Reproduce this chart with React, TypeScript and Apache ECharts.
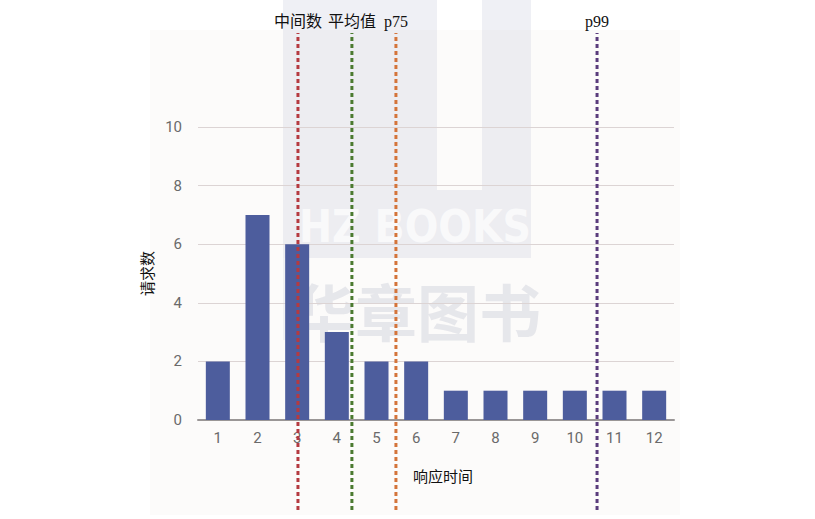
import { useEffect, useRef } from "react";
import * as echarts from "echarts";

// response-time buckets and request counts
const buckets = ["1", "2", "3", "4", "5", "6", "7", "8", "9", "10", "11", "12"];
const counts = [2, 7, 6, 3, 2, 2, 1, 1, 1, 1, 1, 1];
const yTicks = { min: 0, max: 10, interval: 2 };

// statistic markers, positions on the bucket scale (bucket n centred at n)
const markerNames = ["中间数", "平均值", "p75", "p99"];
const markerValues = [3.02, 4.38, 5.49, 10.56];
const markerColors = ["#b53a40", "#4b7a30", "#d4743a", "#5a3c7c"];

const sans = "Roboto, 'Noto Sans CJK SC', sans-serif";
const serif = "'Liberation Serif', 'Noto Sans CJK SC', serif";

export default function App() {
  const ref = useRef<HTMLDivElement | null>(null);

  useEffect(() => {
    document.body.style.margin = "0";
    if (!ref.current) return;
    const chart = echarts.init(ref.current, undefined, { renderer: "svg" });

    const markerSeries = markerNames.map((name, i) => ({
      name,
      type: "line",
      xAxisIndex: 1,
      yAxisIndex: 1,
      symbol: "circle",
      symbolSize: 0,
      showSymbol: true,
      silent: true,
      z: 5,
      lineStyle: { color: markerColors[i], width: 3, type: [4, 3] },
      label: { show: false },
      data: [
        [markerValues[i], 0],
        {
          value: [markerValues[i], 1],
          label: {
            show: true,
            position: "top",
            distance: 4,
            formatter: name,
            color: "#111",
            fontSize: 16,
            fontFamily: serif
          }
        }
      ]
    }));

    chart.setOption({
      animation: false,
      backgroundColor: "#ffffff",
      grid: [
        { left: 198, right: 141, top: 127, bottom: 99 },
        { left: 198, right: 141, top: 33, bottom: 9 }
      ],
      xAxis: [
        {
          type: "category",
          gridIndex: 0,
          data: buckets,
          axisTick: { show: false },
          axisLine: { lineStyle: { color: "#9a9696", width: 2 } },
          axisLabel: { color: "#6a6a6a", fontSize: 15, fontFamily: sans, margin: 10 },
          name: "响应时间",
          nameLocation: "middle",
          nameGap: 48,
          nameTextStyle: {
            color: "#111",
            fontSize: 15,
            fontFamily: "'Noto Sans CJK SC', sans-serif",
            padding: [0, 0, 0, 14]
          }
        },
        {
          type: "value",
          gridIndex: 1,
          min: 0.5,
          max: 12.5,
          show: false
        }
      ],
      yAxis: [
        {
          type: "value",
          gridIndex: 0,
          ...yTicks,
          axisLine: { show: false },
          axisTick: { show: false },
          axisLabel: { color: "#6a6a6a", fontSize: 15, fontFamily: sans, margin: 16 },
          splitLine: { lineStyle: { color: "#dcd4d4", width: 1.2 } },
          name: "请求数",
          nameLocation: "middle",
          nameRotate: 90,
          nameGap: 38,
          nameTextStyle: {
            color: "#111",
            fontSize: 15,
            fontFamily: "'Noto Sans CJK SC', sans-serif"
          }
        },
        { type: "value", gridIndex: 1, min: 0, max: 1, show: false }
      ],
      graphic: [
        {
          type: "rect",
          z: -10,
          shape: { x: 150, y: 30, width: 530, height: 485 },
          style: { fill: "#fcfbfa" }
        },
        {
          type: "group",
          z: 100,
          silent: true,
          children: [
            { type: "rect", shape: { x: 283, y: 0, width: 154, height: 258 }, style: { fill: "rgba(205,208,225,0.32)" } },
            { type: "rect", shape: { x: 482, y: 0, width: 49, height: 258 }, style: { fill: "rgba(205,208,225,0.32)" } },
            { type: "rect", shape: { x: 437, y: 190, width: 45, height: 68 }, style: { fill: "rgba(205,208,225,0.32)" } },
            { type: "rect", shape: { x: 283, y: 258, width: 20, height: 82 }, style: { fill: "rgba(205,208,225,0.26)" } },
            {
              type: "text",
              x: 415,
              y: 226,
              style: {
                text: "HZ BOOKS",
                fill: "rgba(255,255,255,0.7)",
                font: "bold 44px 'DejaVu Sans Condensed', sans-serif",
                align: "center",
                verticalAlign: "middle"
              }
            },
            {
              type: "text",
              x: 417,
              y: 310,
              style: {
                text: "华章图书",
                fill: "rgba(200,202,215,0.42)",
                font: "bold 62px 'Noto Sans CJK SC', sans-serif",
                align: "center",
                verticalAlign: "middle"
              }
            }
          ]
        }
      ],
      series: [
        {
          name: "请求数",
          type: "bar",
          xAxisIndex: 0,
          yAxisIndex: 0,
          barWidth: 24,
          itemStyle: { color: "#4d5d9d" },
          data: counts
        },
        ...markerSeries
      ]
    });

    return () => {
      chart.dispose();
    };
  }, []);

  return <div ref={ref} style={{ width: 815, height: 519 }} />;
}
